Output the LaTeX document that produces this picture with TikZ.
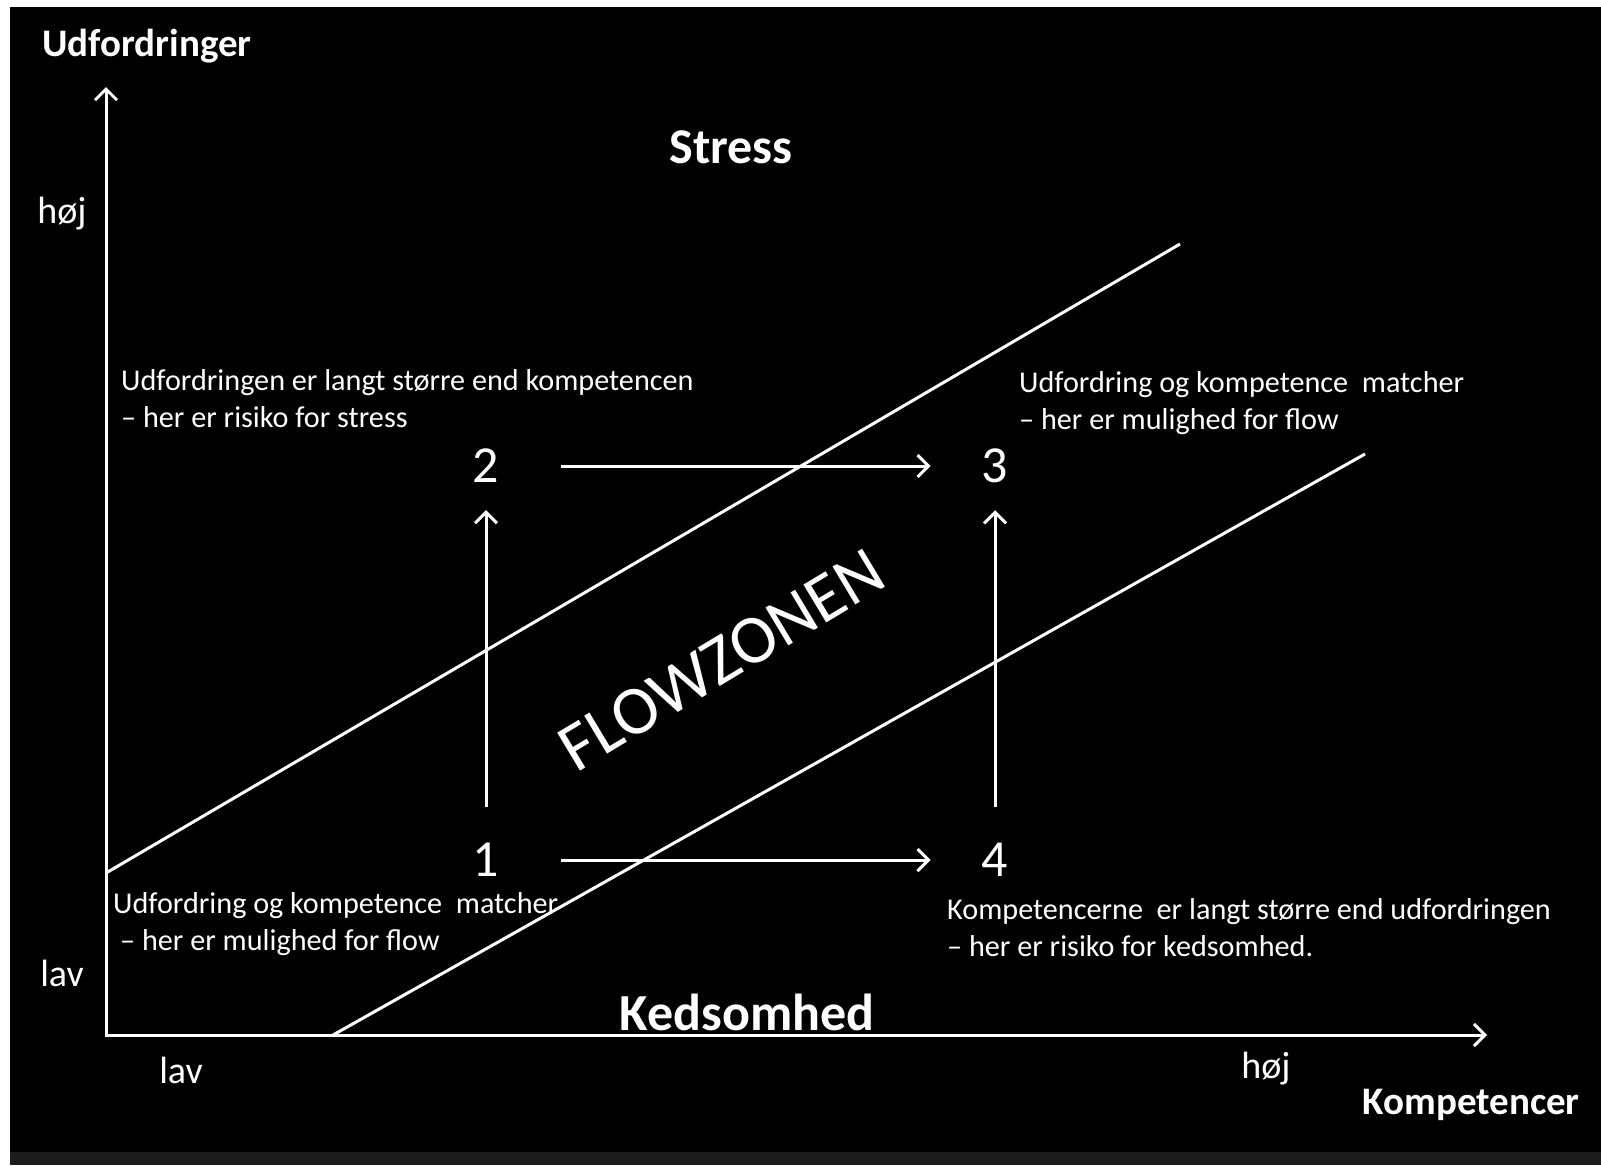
\documentclass[tikz,border=0pt]{standalone}
\usepackage{fontspec}
\setmainfont{Carlito}
\usetikzlibrary{arrows.meta}
\begin{document}
\begin{tikzpicture}[x=1pt,y=-1pt,
  ln/.style={draw=white,line width=3pt},
  tipb/.tip={Straight Barb[length=11pt,width=22pt,line width=3pt]},
  arr/.style={ln,-tipb},
  small/.style={text=white,font=\fontsize{30.2}{36.8}\selectfont,align=left,inner sep=0pt,anchor=west},
  lbl/.style={text=white,font=\fontsize{38}{44}\selectfont,inner sep=0pt},
  bold/.style={text=white,font=\bfseries\fontsize{39}{44}\selectfont,inner sep=0pt},
  num/.style={text=white,font=\fontsize{52}{60}\selectfont,inner sep=0pt}]
\useasboundingbox (0,0) rectangle (1601,1165);
\fill[white] (0,0) rectangle (1601,1165);
\fill[black] (10,7) rectangle (1601,1152);
\fill[black!89!white] (10,1152) rectangle (1601,1165);

% axes
\coordinate (O) at (106,1035);
\coordinate (Ytop) at (106,87);
\coordinate (Xend) at (1487,1035);
\draw[ln,tipb-tipb] (Ytop) -- (O) -- (Xend);

% zone boundaries
\coordinate (U1) at (106,873);
\coordinate (U2) at (1180,244);
\coordinate (L1) at (333,1035);
\coordinate (L2) at (1365,454);
\draw[ln] (U1) -- (U2);
\draw[ln] (L1) -- (L2);

% axis labels
\node[bold,anchor=west] (ylab) at (42,46) {Udfordringer};
\node[bold,anchor=east] (xlab) at (1580,1105) {Kompetencer};
\node[lbl] (yhi) at (62,214) {høj};
\node[lbl] (ylo) at (62,973) {lav};
\node[lbl] (xlo) at (181,1070) {lav};
\node[lbl] (xhi) at (1266,1069) {høj};

% zone titles
\node[text=white,font=\bfseries\fontsize{50}{60}\selectfont,inner sep=0pt] (stress) at (731,147) {Stress};
\node[text=white,font=\bfseries\fontsize{52}{60}\selectfont,inner sep=0pt] (keds) at (747,1012) {Kedsomhed};
\node[text=white,font=\fontsize{69}{78}\selectfont,inner sep=0pt,rotate=31] (flow) at (722,660) {FLOWZONEN};

% numbers
\node[num] (n1) at (486,860) {1};
\node[num] (n2) at (486,466) {2};
\node[num] (n3) at (995,466) {3};
\node[num] (n4) at (995,860) {4};

\draw[arr,shorten <=36pt,shorten >=27pt] (n1) -- (n2);
\draw[arr,shorten <=36pt,shorten >=27pt] (n4) -- (n3);
\draw[arr,shorten <=62pt,shorten >=51pt] (n2) -- (n3);
\draw[arr,shorten <=62pt,shorten >=51pt] (n1) -- (n4);

% descriptions
\node[small] (tUL) at (121,399) {Udfordringen er langt større end kompetencen\\– her er risiko for stress};
\node[small] (tUR) at (1019,403) {Udfordring og kompetence \ matcher\\– her er mulighed for flow};
\node[small] (tLL) at (113,924) {Udfordring og kompetence \ matcher\\\hspace{7pt}– her er mulighed for flow};
\node[small] (tLR) at (947,928) {Kompetencerne \ er langt større end udfordringen\\– her er risiko for kedsomhed.};
\end{tikzpicture}
\end{document}
